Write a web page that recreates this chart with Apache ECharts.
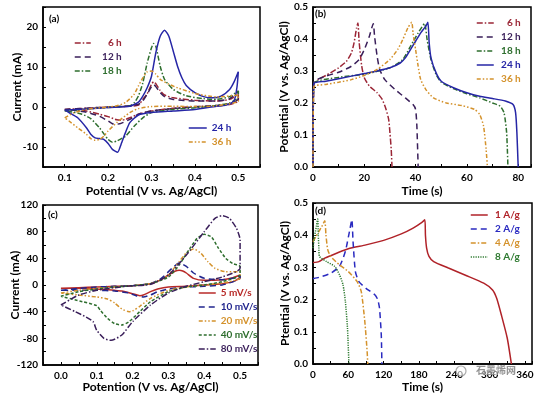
<!DOCTYPE html>
<html><head><meta charset="utf-8">
<script src="https://cdn.jsdelivr.net/npm/echarts@6/dist/echarts.min.js"></script>
<style>html,body{margin:0;padding:0;background:#fff}#c{width:547px;height:394px}</style>
</head><body><div id="c"></div>
<script>
// ---------- DATA ----------
// Panel (a): CV curves, [potential V, current mA]
const a6h = [[0.1,-0.6],[0.15,-0.3],[0.2,0],[0.25,0.2],[0.27,0.5],[0.28,1.9],[0.29,3.3],[0.3,5.7],[0.305,6.3],[0.31,5.8],[0.32,4.1],[0.33,3],[0.35,2.3],[0.4,1.7],[0.45,1.5],[0.48,1.9],[0.5,3.2],
  [0.5,1.5],[0.48,0.6],[0.45,0.3],[0.4,0.1],[0.35,-0.3],[0.3,-1],[0.27,-1.8],[0.25,-2.7],[0.24,-3.1],[0.23,-3.3],[0.22,-3.2],[0.2,-2.4],[0.18,-1.8],[0.15,-1],[0.12,-0.7],[0.1,-0.6]];
const a12h = [[0.1,-0.6],[0.15,-0.3],[0.2,0],[0.25,0.3],[0.27,0.7],[0.28,1.5],[0.29,3.2],[0.3,5.1],[0.305,5.6],[0.31,5.1],[0.32,3.6],[0.33,2.6],[0.35,1.9],[0.4,1.5],[0.45,1.5],[0.48,2.1],[0.5,4],
  [0.5,2],[0.48,0.8],[0.45,0.4],[0.4,0],[0.35,-0.4],[0.3,-1],[0.27,-1.8],[0.25,-3.1],[0.23,-4.1],[0.22,-4.3],[0.21,-4.2],[0.2,-3.5],[0.18,-2.3],[0.15,-1.3],[0.12,-0.8],[0.1,-0.6]];
const a18h = [[0.1,-1],[0.15,-0.5],[0.2,-0.1],[0.25,0.3],[0.26,1],[0.27,2.8],[0.28,6],[0.29,11],[0.3,14.8],[0.305,15.9],[0.31,15.2],[0.32,10.2],[0.33,6.9],[0.35,4.4],[0.38,2.8],[0.42,2.1],[0.45,1.9],[0.48,2.6],[0.5,4],
  [0.5,2.5],[0.48,1],[0.45,0.4],[0.4,-0.2],[0.35,-0.6],[0.3,-1.4],[0.28,-2.7],[0.26,-4.8],[0.24,-7.3],[0.22,-8.5],[0.21,-8.8],[0.2,-8.1],[0.18,-5.2],[0.16,-2.9],[0.14,-1.8],[0.12,-1.3],[0.1,-1]];
const a24h = [[0.1,-0.8],[0.15,-0.5],[0.2,-0.1],[0.25,0.2],[0.27,1.2],[0.28,2.7],[0.29,4.8],[0.3,7.7],[0.31,13.6],[0.32,17.7],[0.33,19.2],[0.34,17.7],[0.35,14],[0.36,10.2],[0.37,7.3],[0.38,5.4],[0.4,3.6],[0.42,2.6],[0.44,2.3],[0.46,2.7],[0.48,4.4],[0.49,6.2],[0.5,8.8],
  [0.497,5],[0.49,1.5],[0.47,0.4],[0.45,0.2],[0.4,-0.6],[0.35,-1],[0.3,-1.4],[0.27,-2],[0.25,-3.9],[0.24,-6.4],[0.23,-9.3],[0.222,-11.3],[0.21,-10.6],[0.2,-9.1],[0.19,-8.1],[0.18,-7.9],[0.17,-7.7],[0.16,-6.8],[0.15,-5.2],[0.13,-2.7],[0.11,-1.4],[0.1,-0.8]];
const a36h = [[0.1,-2.7],[0.12,-1.5],[0.15,-0.6],[0.2,0],[0.22,0.3],[0.24,1.1],[0.26,3.2],[0.27,5.3],[0.28,7.3],[0.29,8.8],[0.3,9],[0.31,8.2],[0.32,6.9],[0.34,5.7],[0.36,4.8],[0.4,3.4],[0.45,2.5],[0.5,3],
  [0.5,1.5],[0.45,0.3],[0.4,0.1],[0.35,0.2],[0.3,0.1],[0.27,-0.4],[0.25,-1.4],[0.22,-3.9],[0.2,-6],[0.19,-7.3],[0.18,-8.1],[0.17,-8.3],[0.16,-7.9],[0.15,-6.8],[0.13,-5.2],[0.11,-3.5],[0.1,-2.7]];

// Panel (b): GCD curves, [time s, potential V]
const b6h = [[0,0],[0.3,0.26],[2,0.273],[5,0.286],[10,0.31],[13,0.33],[15,0.357],[16,0.388],[17,0.435],[17.5,0.45],[18,0.39],[19,0.315],[20,0.279],[22,0.253],[25,0.232],[27,0.211],[28.5,0.18],[29.5,0.149],[30,0.107],[30.5,0.055],[30.8,0]];
const b12h = [[0,0],[0.3,0.265],[5,0.284],[10,0.296],[15,0.315],[18,0.336],[20,0.367],[22,0.409],[23.5,0.448],[24,0.409],[25,0.346],[26,0.305],[28,0.273],[32,0.242],[36,0.216],[39,0.195],[40,0.18],[40.5,0.128],[41,0]];
const b18h = [[0,0],[0.3,0.26],[10,0.28],[20,0.29],[30,0.31],[35,0.336],[38,0.377],[41,0.419],[43.5,0.448],[44.5,0.398],[46,0.336],[48,0.289],[50,0.265],[55,0.244],[60,0.229],[65,0.216],[70,0.2],[73,0.19],[74.5,0.169],[75.5,0.107],[76,0]];
const b24h = [[0,0],[0.3,0.26],[5,0.268],[10,0.276],[20,0.292],[25,0.3],[30,0.31],[34,0.325],[36,0.341],[38,0.367],[40,0.393],[42,0.419],[44,0.44],[44.8,0.452],[45.3,0.388],[46,0.341],[48,0.294],[50,0.268],[55,0.247],[60,0.232],[65,0.221],[70,0.214],[75,0.206],[78,0.195],[79,0.169],[79.5,0.107],[80,0]];
const b36h = [[0,0],[0.3,0.25],[5,0.258],[10,0.265],[15,0.273],[20,0.286],[25,0.305],[30,0.336],[33,0.367],[35,0.398],[37,0.435],[38.5,0.452],[39,0.419],[40,0.367],[41,0.315],[42,0.273],[44,0.242],[47,0.216],[52,0.2],[58,0.192],[63,0.18],[65,0.164],[66.5,0.128],[67.5,0.055],[68,0]];

// Panel (c): CV at scan rates, [potential V, current mA]
const c5 = [[0,-5],[0.05,-4],[0.1,-3],[0.15,-2],[0.2,-1],[0.25,2],[0.28,8],[0.3,15],[0.32,21],[0.33,22],[0.34,21],[0.35,18],[0.37,10],[0.4,7],[0.45,8],[0.48,11],[0.5,15],
  [0.5,12],[0.48,5],[0.45,2],[0.4,0],[0.35,-2],[0.3,-3],[0.27,-6],[0.25,-10],[0.23,-15],[0.22,-16],[0.2,-13],[0.17,-9],[0.15,-8],[0.1,-6],[0.05,-5],[0,-5]];
const c10 = [[0,-8],[0.05,-5],[0.1,-3],[0.15,-2],[0.2,-1],[0.25,2],[0.28,10],[0.31,25],[0.33,33],[0.35,28],[0.37,18],[0.4,10],[0.45,8],[0.48,10],[0.5,14],
  [0.5,10],[0.47,3],[0.45,0],[0.4,-2],[0.35,-3],[0.3,-6],[0.27,-10],[0.25,-15],[0.23,-18],[0.21,-16],[0.19,-12],[0.15,-9],[0.1,-8],[0.05,-8],[0,-8]];
const c20 = [[0,-12],[0.05,-8],[0.1,-5],[0.15,-3],[0.2,-1],[0.25,2],[0.28,8],[0.3,15],[0.33,35],[0.35,48],[0.37,54],[0.39,48],[0.41,35],[0.43,25],[0.46,20],[0.5,20],
  [0.5,10],[0.45,3],[0.4,0],[0.35,-3],[0.3,-8],[0.25,-20],[0.22,-32],[0.2,-39],[0.19,-40],[0.17,-36],[0.15,-27],[0.13,-21],[0.1,-18],[0.05,-15],[0,-12]];
const c40 = [[0,-17],[0.05,-10],[0.1,-6],[0.15,-3],[0.2,-1],[0.25,2],[0.3,12],[0.33,30],[0.36,55],[0.38,70],[0.4,76],[0.42,72],[0.44,55],[0.46,40],[0.48,32],[0.5,28],
  [0.5,15],[0.45,5],[0.4,0],[0.35,-3],[0.3,-10],[0.25,-25],[0.22,-40],[0.19,-55],[0.17,-60],[0.15,-58],[0.13,-50],[0.11,-38],[0.1,-31],[0.06,-25],[0,-17]];
const c80 = [[0,-30],[0.05,-15],[0.1,-8],[0.15,-4],[0.2,-1],[0.25,1],[0.3,15],[0.35,45],[0.4,80],[0.43,100],[0.45,104],[0.47,100],[0.49,85],[0.5,68],
  [0.5,25],[0.45,12],[0.4,5],[0.35,-2],[0.3,-12],[0.25,-30],[0.2,-55],[0.17,-75],[0.14,-83],[0.12,-80],[0.1,-68],[0.09,-55],[0.07,-48],[0.04,-40],[0,-30]];

// Panel (d): GCD at current densities, [time s, potential V]
const d1 = [[0,0.315],[10,0.318],[20,0.329],[40,0.344],[60,0.358],[90,0.37],[120,0.384],[150,0.404],[170,0.422],[185,0.44],[190,0.448],[191,0.4],[193,0.36],[197,0.334],[205,0.318],[230,0.298],[260,0.275],[290,0.251],[305,0.23],[312,0.204],[320,0.152],[330,0.08],[337,0]];
const d2 = [[0,0.265],[10,0.269],[30,0.282],[45,0.303],[55,0.35],[62,0.412],[66,0.448],[68,0.381],[72,0.287],[78,0.256],[90,0.235],[105,0.215],[110,0.2],[113,0.173],[116,0.09],[117,0]];
const d4 = [[0,0.38],[5,0.396],[10,0.412],[15,0.427],[20,0.445],[22,0.401],[25,0.355],[30,0.334],[45,0.308],[60,0.287],[75,0.256],[82,0.225],[88,0.132],[92,0.038],[93,0]];
const d8 = [[0,0.36],[3,0.4],[6,0.43],[8,0.45],[9,0.4],[10,0.36],[11,0.334],[23,0.318],[37,0.303],[45,0.277],[51,0.246],[55,0.194],[58.6,0.11],[61,0]];

const namesAB = ['6 h','12 h','18 h','24 h','36 h'];
const namesC = ['5 mV/s','10 mV/s','20 mV/s','40 mV/s','80 mV/s'];
const namesD = ['1 A/g','2 A/g','4 A/g','8 A/g'];

// ---------- STYLE ----------
const FONT = 'Lato';
const colAB = ['#9b2636','#3a1f5a','#2e6e2e','#2626a6','#d4922c'];
const dashAB = [[6,2,1.5,2],[6,4],[5,2,1.5,2],'solid',[4,2,1.5,2,1.5,2]];
const colC = ['#b82a28','#22268e','#d4922c','#2e6e2e','#3a1f5a'];
const dashC = ['solid',[6,4],[4,2,1.5,2,1.5,2],[3,2],[6,2,1.5,2]];
const colD = ['#b02228','#2a2ac0','#d4922c','#2e7a30'];
const dashD = ['solid',[6,4],[5,2,1.5,2],[1.2,1.2]];

function fmtMult(step, dec) {
  return function (v) {
    const k = v / step;
    if (Math.abs(k - Math.round(k)) > 1e-6) return '';
    let s = (Math.round(k) * step).toFixed(dec);
    if (s === '-0.0' || s === '-0') s = s.slice(1);
    return s;
  };
}
const lblStyle = {color:'#000', fontSize:10, fontWeight:'bold', fontFamily:FONT};
const nameStyle = {color:'#000', fontSize:12, fontWeight:'bold', fontFamily:FONT};

function xAx(g, min, max, interval, step, dec, name, gap) {
  return {type:'value', gridIndex:g, min, max, interval, name, nameLocation:'middle', nameGap:gap, nameMoveOverlap:false, nameTextStyle:nameStyle,
    axisLine:{show:true, onZero:false, lineStyle:{color:'#000', width:1.5}},
    axisTick:{show:true, inside:true, length:3, lineStyle:{color:'#000', width:1}},
    axisLabel:Object.assign({margin:6, formatter:fmtMult(step, dec), showMinLabel:true, showMaxLabel:true}, lblStyle),
    splitLine:{show:false}};
}
function yAx(g, min, max, interval, step, dec, name, gap) {
  return {type:'value', gridIndex:g, min, max, interval, name, nameLocation:'middle', nameGap:gap, nameMoveOverlap:false, nameTextStyle:nameStyle,
    axisLine:{show:true, onZero:false, lineStyle:{color:'#000', width:1.5}},
    axisTick:{show:true, inside:true, length:3, lineStyle:{color:'#000', width:1}},
    axisLabel:Object.assign({margin:5, formatter:fmtMult(step, dec)}, lblStyle),
    splitLine:{show:false}};
}
function ser(name, data, g, color, dash) {
  return {type:'line', name, data, xAxisIndex:g, yAxisIndex:g, showSymbol:false, symbol:'none', smooth:0.2,
    lineStyle:{color, width:1.5, type:dash}, itemStyle:{color}, animation:false, z:3};
}
function namesIndex(n) {
  let i = namesAB.indexOf(n); if (i >= 0) return i;
  i = namesC.indexOf(n); if (i >= 0) return i;
  return namesD.indexOf(n);
}
function leg(names, cols, left, top, width, right, itemWidth) {
  return {left, top, orient:'vertical', itemWidth, itemHeight:10, itemGap:2, padding:0, selectedMode:false,
    itemStyle:{color:'rgba(0,0,0,0)', borderColor:'rgba(0,0,0,0)', borderWidth:0, opacity:0},
    lineStyle:{width:1.5},
    data:names.map((n) => ({name:n, textStyle:{color:cols[namesIndex(n)]}})),
    formatter: right ? (n => '{r|' + n + '}') : undefined,
    textStyle:{fontSize:10, fontWeight:'bold', fontFamily:FONT, lineHeight:12,
      rich:{r:{width, align:'right', fontSize:10, fontWeight:'bold', fontFamily:FONT}}}};
}

const grids = [
  {left:43, top:7, width:217, height:160},
  {left:313, top:7, width:218, height:160},
  {left:43, top:205, width:215, height:160},
  {left:313, top:203, width:219, height:161}
].map(g => Object.assign({show:true, borderColor:'#000', borderWidth:1.5, backgroundColor:'transparent'}, g));

const aData = [a6h, a12h, a18h, a24h, a36h];
const bData = [b6h, b12h, b18h, b24h, b36h];
const cData = [c5, c10, c20, c40, c80];
const dData = [d1, d2, d4, d8];

const series = [];
namesAB.forEach((n,i) => series.push(ser(n, aData[i], 0, colAB[i], dashAB[i])));
namesAB.forEach((n,i) => series.push(ser(n, bData[i], 1, colAB[i], dashAB[i])));
namesC.forEach((n,i) => series.push(ser(n, cData[i], 2, colC[i], dashC[i])));
namesD.forEach((n,i) => series.push(ser(n, dData[i], 3, colD[i], dashD[i])));

const legends = [
  leg(namesAB.slice(0,3), colAB, 74, 37, 26, true, 16),
  leg(namesAB.slice(3), colAB, 188, 122, 24, false, 18),
  leg(namesAB, colAB, 476, 17, 22, true, 17),
  leg(namesC, colC, 198, 287, 40, false, 17),
  leg(namesD, colD, 470, 209, 27, true, 17)
];

const txt = (t, x, y, size, extra) => ({type:'text', left:x, top:y, z:10,
  style:Object.assign({text:t, fill:'#000', font:'bold ' + size + 'px ' + FONT}, extra || {})});

const option = {
  animation:false,
  backgroundColor:'#fff',
  grid:grids,
  xAxis:[
    xAx(0, 0.05, 0.55, 0.05, 0.1, 1, 'Potential (V vs. Ag/AgCl)', 18),
    xAx(1, 0, 85, 10, 20, 0, 'Time (s)', 18),
    xAx(2, -0.05, 0.55, 0.05, 0.1, 1, 'Potention (V vs. Ag/AgCl)', 16),
    xAx(3, 0, 372, 30, 60, 0, 'Time (s)', 17)
  ],
  yAxis:[
    yAx(0, -15, 25, 5, 10, 0, 'Current (mA)', 20),
    yAx(1, 0, 0.5, 0.05, 0.1, 1, 'Potential (V vs. Ag/AgCl)', 23),
    yAx(2, -120, 120, 20, 40, 0, 'Current (mA)', 22),
    yAx(3, 0, 0.5, 0.05, 0.1, 1, 'Ptential (V vs. Ag/AgCl)', 22)
  ],
  legend:legends,
  series,
  graphic:[
    txt('(a)', 49, 14, 10),
    txt('(b)', 315, 9, 10),
    txt('(c)', 48, 210, 10),
    txt('(d)', 315, 206, 10),
    {type:'circle', shape:{cx:461, cy:371, r:5}, style:{fill:'rgba(255,255,255,0.6)', stroke:'rgba(150,150,150,0.8)', lineWidth:1.2}, z:12},
    {type:'text', left:476, top:365, z:12, style:{text:'石墨烯网', fill:'rgba(120,120,120,0.8)', font:'bold 10px "Noto Sans CJK SC"',
      backgroundColor:'rgba(255,255,255,0.5)'}}
  ]
};
echarts.init(document.getElementById('c'), null, {renderer:'canvas'}).setOption(option);
</script></body></html>
